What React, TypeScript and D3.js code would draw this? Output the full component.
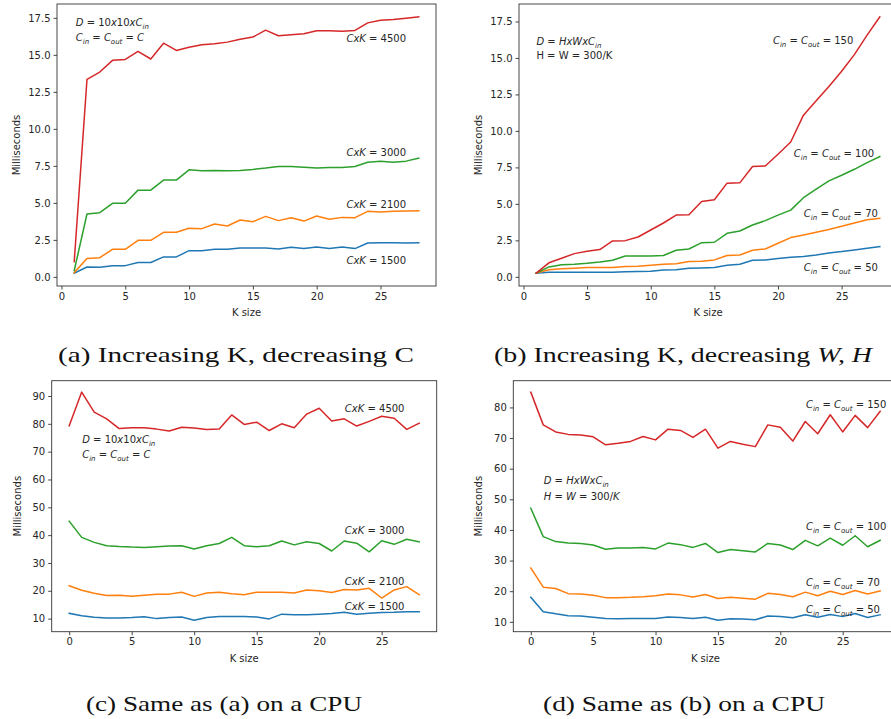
import { useRef, useEffect } from 'react'
import * as d3 from 'd3'

// K sizes on the x axis
const kGpu = [1, 2, 3, 4, 5, 6, 7, 8, 9, 10, 11, 12, 13, 14, 15, 16, 17, 18, 19, 20, 21, 22, 23, 24, 25, 26, 27, 28]
const kCpu = [0, 1, 2, 3, 4, 5, 6, 7, 8, 9, 10, 11, 12, 13, 14, 15, 16, 17, 18, 19, 20, 21, 22, 23, 24, 25, 26, 27, 28]

// (a) Increasing K, decreasing C
const aBlue = [0.25, 0.67, 0.65, 0.76, 0.76, 0.97, 0.97, 1.35, 1.35, 1.77, 1.77, 1.86, 1.86, 1.95, 1.95, 1.95, 1.89, 2.0, 1.91, 2.02, 1.91, 2.02, 1.91, 2.29, 2.31, 2.31, 2.29, 2.31]
const aOrange = [0.29, 1.24, 1.3, 1.86, 1.86, 2.47, 2.47, 3.01, 3.01, 3.28, 3.26, 3.57, 3.44, 3.84, 3.73, 4.09, 3.8, 4.0, 3.77, 4.11, 3.89, 4.02, 4.0, 4.43, 4.38, 4.43, 4.45, 4.47]
const aGreen = [0.43, 4.25, 4.34, 4.97, 4.97, 5.86, 5.86, 6.54, 6.54, 7.23, 7.17, 7.19, 7.17, 7.19, 7.26, 7.35, 7.46, 7.46, 7.41, 7.35, 7.39, 7.39, 7.46, 7.75, 7.82, 7.75, 7.82, 8.02]
const aRed = [1.03, 13.35, 13.84, 14.63, 14.69, 15.23, 14.72, 15.79, 15.3, 15.52, 15.68, 15.75, 15.86, 16.06, 16.2, 16.67, 16.29, 16.36, 16.42, 16.63, 16.63, 16.6, 16.65, 17.16, 17.34, 17.39, 17.48, 17.57]

// (b) Increasing K, decreasing W, H
const bBlue = [0.25, 0.32, 0.32, 0.32, 0.32, 0.32, 0.32, 0.34, 0.36, 0.39, 0.46, 0.48, 0.59, 0.61, 0.64, 0.8, 0.86, 1.14, 1.16, 1.25, 1.34, 1.39, 1.5, 1.64, 1.73, 1.84, 1.96, 2.07]
const bOrange = [0.25, 0.48, 0.55, 0.59, 0.64, 0.64, 0.64, 0.71, 0.73, 0.8, 0.86, 0.89, 1.05, 1.07, 1.16, 1.46, 1.5, 1.82, 1.91, 2.3, 2.69, 2.87, 3.05, 3.25, 3.46, 3.69, 3.91, 4.01]
const bGreen = [0.25, 0.68, 0.82, 0.86, 0.93, 1.02, 1.14, 1.43, 1.43, 1.43, 1.46, 1.82, 1.91, 2.34, 2.37, 2.98, 3.14, 3.55, 3.85, 4.23, 4.57, 5.42, 6.01, 6.58, 6.96, 7.37, 7.83, 8.24]
const bRed = [0.25, 0.96, 1.27, 1.59, 1.75, 1.87, 2.46, 2.48, 2.73, 3.21, 3.69, 4.23, 4.26, 5.17, 5.28, 6.42, 6.44, 7.56, 7.6, 8.4, 9.24, 11.08, 12.06, 13.04, 14.09, 15.23, 16.57, 17.82]

// (c) Same as (a) on a CPU
const cBlue = [11.9, 11.0, 10.5, 10.2, 10.2, 10.4, 10.7, 10.0, 10.4, 10.6, 9.4, 10.4, 10.8, 10.8, 10.8, 10.6, 9.9, 11.6, 11.4, 11.4, 11.6, 11.8, 12.3, 11.6, 11.9, 12.2, 12.3, 12.5, 12.5]
const cOrange = [21.8, 20.2, 19.1, 18.3, 18.4, 18.0, 18.4, 18.8, 18.8, 19.5, 18.0, 19.2, 19.5, 18.9, 18.6, 19.5, 19.5, 19.5, 19.2, 20.3, 20.0, 19.4, 20.5, 20.3, 20.9, 17.4, 20.3, 21.5, 18.6]
const cGreen = [45.0, 39.2, 37.4, 36.2, 35.9, 35.7, 35.6, 35.8, 36.1, 36.2, 35.0, 36.2, 37.0, 39.2, 36.2, 35.8, 36.2, 37.9, 36.5, 37.6, 37.0, 34.3, 37.9, 37.1, 34.0, 38.0, 36.7, 38.5, 37.6]
const cRed = [79.3, 91.4, 84.2, 81.8, 78.3, 78.6, 78.6, 78.1, 77.4, 78.8, 78.5, 78.0, 78.1, 83.2, 79.8, 80.6, 77.6, 80.0, 78.6, 83.5, 85.6, 81.0, 81.8, 79.2, 80.9, 82.7, 82.0, 78.0, 80.2]

// (d) Same as (b) on a CPU
const dBlue = [18.0, 13.3, 12.6, 12.0, 11.9, 11.5, 11.1, 11.0, 11.1, 11.1, 11.1, 11.6, 11.4, 11.1, 11.5, 10.5, 11.0, 10.9, 10.7, 11.9, 11.7, 11.3, 12.3, 11.5, 12.4, 11.7, 12.7, 11.4, 12.3]
const dOrange = [27.6, 21.3, 20.9, 19.2, 19.1, 18.7, 17.9, 17.9, 18.0, 18.2, 18.5, 19.1, 18.8, 18.1, 18.9, 17.6, 18.0, 17.7, 17.4, 19.3, 18.9, 18.2, 19.7, 18.5, 20.0, 18.9, 20.2, 19.1, 20.1]
const dGreen = [47.1, 37.8, 36.2, 35.7, 35.6, 35.1, 33.7, 34.1, 34.1, 34.3, 33.8, 35.7, 35.2, 34.3, 35.6, 32.6, 33.6, 33.2, 32.8, 35.6, 35.1, 33.6, 36.6, 34.8, 37.3, 35.0, 38.1, 34.5, 36.6]
const dRed = [85.0, 74.3, 72.0, 71.2, 71.0, 70.4, 67.8, 68.3, 68.9, 70.5, 69.4, 72.9, 72.5, 70.2, 72.9, 66.7, 68.9, 68.0, 67.2, 74.3, 73.5, 69.0, 75.4, 71.4, 77.6, 72.0, 77.4, 73.4, 78.7]

const xTicks = [0, 5, 10, 15, 20, 25]
const yTicksGpu = [0, 2.5, 5, 7.5, 10, 12.5, 15, 17.5]
const yTicksCpuA = [10, 20, 30, 40, 50, 60, 70, 80, 90]
const yTicksCpuB = [10, 20, 30, 40, 50, 60, 70, 80]

const colors = ['#1f77b4', '#ff7f0e', '#2ca02c', '#d62728']

type Seg = { t: string; i?: boolean; sub?: boolean }
type Note = { x: number; y: number; segs: Seg[] }

const it = (t: string): Seg => ({ t, i: true })
const up = (t: string): Seg => ({ t })
const sb = (t: string): Seg => ({ t, i: true, sub: true })

const cxk = (v: string): Seg[] => [it('CxK'), up(' = ' + v)]
const cio = (v: string): Seg[] => [it('C'), sb('in'), up(' = '), it('C'), sb('out'), up(' = ' + v)]
const dTen: Seg[] = [it('D'), up(' = 10'), it('x'), up('10'), it('x'), it('C'), sb('in')]
const cEq: Seg[] = [it('C'), sb('in'), up(' = '), it('C'), sb('out'), up(' = '), it('C')]
const dHw: Seg[] = [it('D'), up(' = '), it('HxWxC'), sb('in')]

const panels = [
  {
    box: [57, 436, 4, 286], k: kGpu, series: [aBlue, aOrange, aGreen, aRed], yTicks: yTicksGpu, fmt: d3.format('.1f'),
    yLabelX: 20,
    notes: [
      { x: 1.12, y: 16.95, segs: dTen }, { x: 1.12, y: 15.97, segs: cEq },
      { x: 22.33, y: 15.9, segs: cxk('4500') }, { x: 22.33, y: 8.15, segs: cxk('3000') },
      { x: 22.33, y: 4.65, segs: cxk('2100') }, { x: 22.33, y: 0.88, segs: cxk('1500') },
    ] as Note[],
    caption: [up('(a) Increasing K, decreasing C')], capX: 236, capY: 362, capW: 356,
  },
  {
    box: [519, 897, 4, 286], k: kGpu, series: [bBlue, bOrange, bGreen, bRed], yTicks: yTicksGpu, fmt: d3.format('.1f'),
    yLabelX: 482,
    notes: [
      { x: 1.02, y: 15.9, segs: dHw }, { x: 1.02, y: 14.95, segs: [up('H = W = 300/K')] },
      { x: 19.6, y: 15.97, segs: cio('150') }, { x: 21.24, y: 8.19, segs: cio('100') },
      { x: 22.03, y: 4.1, segs: cio('70') }, { x: 22.03, y: 0.41, segs: cio('50') },
    ] as Note[],
    caption: [up('(b) Increasing K, decreasing '), { t: 'W, H', i: true }], capX: 683, capY: 362, capW: 378,
  },
  {
    box: [51.7, 436.7, 380.7, 631.7], k: kCpu, series: [cBlue, cOrange, cGreen, cRed], yTicks: yTicksCpuA, fmt: d3.format('d'),
    yLabelX: 21,
    notes: [
      { x: 1.04, y: 73.2, segs: dTen }, { x: 1.04, y: 67.8, segs: cEq },
      { x: 22.05, y: 84.3, segs: cxk('4500') }, { x: 22.05, y: 40.4, segs: cxk('3000') },
      { x: 22.05, y: 22.0, segs: cxk('2100') }, { x: 22.05, y: 13.0, segs: cxk('1500') },
    ] as Note[],
    caption: [up('(c) Same as (a) on a CPU')], capX: 224, capY: 711, capW: 276,
  },
  {
    box: [513.3, 897.6, 380.7, 631.7], k: kCpu, series: [dBlue, dOrange, dGreen, dRed], yTicks: yTicksCpuB, fmt: d3.format('d'),
    yLabelX: 482,
    notes: [
      { x: 1.04, y: 55.0, segs: dHw }, { x: 1.04, y: 49.8, segs: [it('H'), up(' = '), it('W'), up(' = 300/'), it('K')] },
      { x: 22.05, y: 79.9, segs: cio('150') }, { x: 22.05, y: 40.0, segs: cio('100') },
      { x: 22.05, y: 21.65, segs: cio('70') }, { x: 22.05, y: 12.85, segs: cio('50') },
    ] as Note[],
    caption: [up('(d) Same as (b) on a CPU')], capX: 684, capY: 711, capW: 282,
  },
]

const sans = 'DejaVu Sans, sans-serif'
const ink = '#262626'

function richText(g: any, x: number, y: number, segs: Seg[], size: number) {
  const t = g.append('text').attr('x', x).attr('y', y).attr('font-size', size)
    .attr('font-family', sans).attr('fill', ink).style('white-space', 'pre')
  let off = 0
  segs.forEach((s) => {
    const target = s.sub ? size * 0.3 : 0
    t.append('tspan').attr('dy', target - off)
      .attr('font-style', s.i ? 'italic' : 'normal')
      .attr('font-size', s.sub ? size * 0.7 : size)
      .text(s.t)
    off = target
  })
}

// matplotlib-style 5% margin around the data
function pad(vals: number[]): [number, number] {
  const [lo, hi] = d3.extent(vals) as [number, number]
  const m = (hi - lo) * 0.05
  return [lo - m, hi + m]
}

export default function App() {
  const ref = useRef<SVGSVGElement>(null)

  useEffect(() => {
    if (!ref.current) return
    const svg = d3.select(ref.current)
    svg.selectAll('*').remove()

    panels.forEach((p) => {
      const [x0, x1, y0, y1] = p.box
      const x = d3.scaleLinear().domain(pad(p.k)).range([x0, x1])
      const y = d3.scaleLinear().domain(pad(p.series.flat())).range([y1, y0])
      const g = svg.append('g')

      // lines
      const line = d3.line<number>().x((_, i) => x(p.k[i])).y((v) => y(v))
      p.series.forEach((s, i) => {
        g.append('path').attr('d', line(s)).attr('fill', 'none')
          .attr('stroke', colors[i]).attr('stroke-width', 1.5)
          .attr('stroke-linejoin', 'round').attr('stroke-linecap', 'square')
      })

      // frame
      g.append('rect').attr('x', x0).attr('y', y0).attr('width', x1 - x0).attr('height', y1 - y0)
        .attr('fill', 'none').attr('stroke', '#333').attr('stroke-width', 0.9)

      // axes
      const xa = g.append('g').attr('transform', `translate(0,${y1})`)
        .call(d3.axisBottom(x).tickValues(xTicks).tickSize(3.5).tickPadding(3).tickFormat(d3.format('d')))
      xa.select('.domain').remove()
      xa.selectAll('line').attr('stroke', '#333').attr('stroke-width', 0.9)
      xa.selectAll('text').attr('font-family', sans).attr('font-size', 10).attr('fill', ink)

      const ya = g.append('g').attr('transform', `translate(${x0},0)`)
        .call(d3.axisLeft(y).tickValues(p.yTicks).tickSize(3.5).tickPadding(3).tickFormat(p.fmt as any))
      ya.select('.domain').remove()
      ya.selectAll('line').attr('stroke', '#333').attr('stroke-width', 0.9)
      ya.selectAll('text').attr('font-family', sans).attr('font-size', 10).attr('fill', ink)

      // axis labels
      g.append('text').attr('x', (x0 + x1) / 2).attr('y', y1 + 30)
        .attr('text-anchor', 'middle').attr('font-family', sans).attr('font-size', 10).attr('fill', ink)
        .text('K size')
      g.append('text')
        .attr('transform', `translate(${p.yLabelX},${(y0 + y1) / 2}) rotate(-90)`)
        .attr('text-anchor', 'middle').attr('font-family', sans).attr('font-size', 10).attr('fill', ink)
        .text('Milliseconds')

      // annotations
      p.notes.forEach((n) => richText(g, x(n.x), y(n.y), n.segs, 10))

      // caption
      const cap = g.append('text').attr('x', p.capX).attr('y', p.capY).attr('text-anchor', 'middle')
        .attr('font-family', 'Liberation Serif, serif').attr('font-size', 21).attr('fill', '#111')
        .attr('textLength', p.capW).attr('lengthAdjust', 'spacingAndGlyphs').style('white-space', 'pre')
      p.caption.forEach((s) => cap.append('tspan').attr('font-style', s.i ? 'italic' : 'normal').text(s.t))
    })
  }, [])

  return (
    <svg ref={ref} width={891} height={719}
      style={{ position: 'absolute', left: 0, top: 0, background: '#fff' }} />
  )
}
